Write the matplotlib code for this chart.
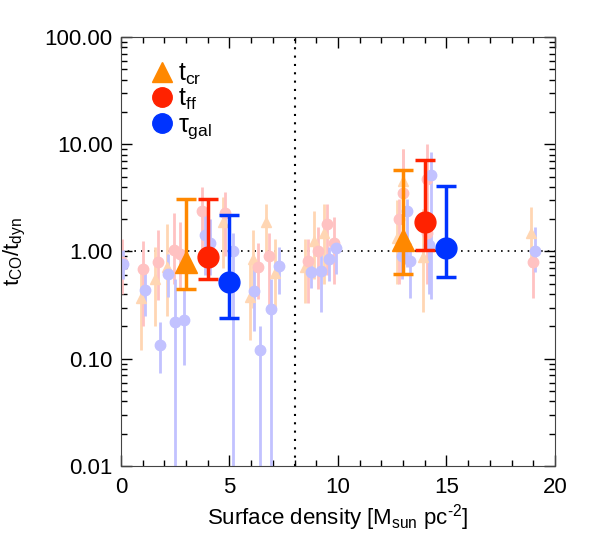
import matplotlib
matplotlib.use('Agg')
import matplotlib.pyplot as plt
from matplotlib.lines import Line2D
import numpy as np

plt.rcParams['font.family'] = ['Liberation Sans', 'DejaVu Sans']
plt.rcParams['mathtext.fontset'] = 'custom'
plt.rcParams['mathtext.rm'] = 'Liberation Sans'
plt.rcParams['mathtext.it'] = 'Liberation Sans'

# faint individual points: t_cr (triangles)
cr_x = [0.9, 1.55, 2.1, 4.7, 5.95, 6.1, 6.7, 7.1, 8.5, 8.9, 9.35, 12.7, 13.0, 13.9, 18.9]
cr_y = [0.37, 0.55, 0.72, 1.9, 0.38, 0.85, 1.9, 0.63, 0.71, 1.24, 1.5, 1.35, 4.5, 0.88, 1.5]
cr_lo = [0.12, 0.2, 0.25, 0.7, 0.15, 0.3, 0.9, 0.3, 0.33, 0.55, 0.5, 0.5, 1.2, 0.27, 0.72]
cr_hi = [0.7, 1.1, 1.8, 3.2, 0.8, 1.6, 2.8, 1.3, 1.3, 2.4, 2.8, 3.0, 9.0, 2.5, 2.6]

# t_ff
ff_x = [0.05, 1.0, 1.7, 2.45, 2.7, 3.75, 4.8, 6.3, 6.8, 8.6, 9.1, 9.5, 9.8, 12.8, 13.0, 14.1, 14.1, 19.0]
ff_y = [0.8, 0.68, 0.79, 1.04, 0.94, 2.4, 2.3, 0.71, 0.9, 0.82, 1.0, 1.8, 1.2, 2.0, 3.5, 1.5, 4.7, 0.79]
ff_lo = [0.4, 0.2, 0.35, 0.5, 0.45, 0.8, 0.9, 0.36, 0.32, 0.33, 0.45, 0.6, 0.5, 0.5, 1.2, 0.5, 1.5, 0.37]
ff_hi = [1.3, 1.25, 1.6, 2.3, 1.9, 4.0, 3.6, 1.2, 1.5, 1.3, 1.7, 2.8, 2.1, 3.1, 9.0, 3.5, 10.0, 1.04]

# tau_gal
gal_x = [0.1, 1.1, 1.8, 2.15, 2.5, 2.9, 3.85, 4.1, 5.15, 6.15, 6.4, 6.9, 7.3,
         8.75, 9.2, 9.6, 9.9, 12.95, 13.2, 13.3, 14.2, 14.3, 19.1]
gal_y = [0.77, 0.44, 0.135, 0.62, 0.22, 0.23, 1.44, 1.2, 1.0, 0.43, 0.12, 0.29, 0.74,
         0.64, 0.66, 0.86, 1.07, 0.9, 2.36, 0.81, 1.16, 5.2, 1.02]
gal_lo = [0.55, 0.25, 0.074, 0.38, 0.005, 0.088, 0.6, 0.6, 0.005, 0.18, 0.005, 0.005, 0.4,
          0.46, 0.27, 0.53, 0.62, 0.55, 0.72, 0.37, 0.4, 0.36, 0.65]
gal_hi = [1.04, 0.68, 0.22, 0.94, 0.55, 0.44, 2.5, 2.0, 1.5, 0.72, 0.2, 0.55, 1.1,
          0.84, 1.03, 1.1, 1.2, 1.5, 3.06, 1.2, 2.0, 8.4, 1.71]

# binned means
bcr_x = [3, 13]
bcr_y = [0.80, 1.29]
bcr_lo = [0.45, 0.62]
bcr_hi = [3.06, 5.7]

bff_x = [4, 14]
bff_y = [0.88, 1.9]
bff_lo = [0.55, 1.04]
bff_hi = [3.1, 7.2]

bgal_x = [5, 15]
bgal_y = [0.52, 1.07]
bgal_lo = [0.24, 0.58]
bgal_hi = [2.2, 4.1]

c_cr, c_ff, c_gal = '#ff8800', '#ff2200', '#0033ff'
l_cr, l_ff, l_gal = '#ffd6b3', '#ffc2c2', '#c2c2ff'


def errs(y, lo, hi):
    y = np.array(y)
    return [y - np.array(lo), np.array(hi) - y]


fig = plt.figure(figsize=(5.98, 5.44), dpi=100)
ax = fig.add_axes([0.2023, 0.1434, 0.7257, 0.7886])

ax.axhline(1.0, color='black', ls=(0, (1, 3)), lw=1.2, zorder=1)
ax.axvline(8.0, color='black', ls=(0, (1, 3)), lw=1.5, zorder=1)

ax.errorbar(cr_x, cr_y, yerr=errs(cr_y, cr_lo, cr_hi), fmt='^', color=l_cr,
            ms=7.5, elinewidth=2, capsize=0, zorder=2)
ax.errorbar(ff_x, ff_y, yerr=errs(ff_y, ff_lo, ff_hi), fmt='o', color=l_ff,
            ms=7.5, elinewidth=2, capsize=0, zorder=2)
ax.errorbar(gal_x, gal_y, yerr=errs(gal_y, gal_lo, gal_hi), fmt='o', color=l_gal,
            ms=7.5, elinewidth=2, capsize=0, zorder=2)

ax.errorbar(bcr_x, bcr_y, yerr=errs(bcr_y, bcr_lo, bcr_hi), fmt='^', color=c_cr,
            ms=16, elinewidth=2.5, capsize=7, capthick=2.5, zorder=3)
ax.errorbar(bff_x, bff_y, yerr=errs(bff_y, bff_lo, bff_hi), fmt='o', color=c_ff,
            ms=15, elinewidth=2.5, capsize=7, capthick=2.5, zorder=3)
ax.errorbar(bgal_x, bgal_y, yerr=errs(bgal_y, bgal_lo, bgal_hi), fmt='o', color=c_gal,
            ms=15, elinewidth=2.5, capsize=7, capthick=2.5, zorder=3)

handles = [Line2D([], [], ls='none', marker='^', color=c_cr, ms=14),
           Line2D([], [], ls='none', marker='o', color=c_ff, ms=14),
           Line2D([], [], ls='none', marker='o', color=c_gal, ms=14)]
labels = [r'$\rm t_{cr}$', r'$\rm t_{ff}$', r'$\tau_{\rm gal}$']
ax.legend(handles, labels, loc='upper left', bbox_to_anchor=(0.049, 0.965),
          frameon=False, fontsize=18, handlelength=0.8, handletextpad=0.25,
          labelspacing=0.0, borderaxespad=0)

ax.set_yscale('log')
ax.set_xlim(0, 20)
ax.set_ylim(0.01, 100)
ax.set_xticks([0, 5, 10, 15, 20])
ax.set_xticks(np.arange(0, 21, 1), minor=True)
ax.set_yticks([0.01, 0.1, 1, 10, 100])
ax.set_yticklabels(['0.01', '0.10', '1.00', '10.00', '100.00'])
ax.tick_params(which='both', direction='in', top=True, right=True, labelsize=16)
ax.tick_params(which='major', length=8, width=1)
ax.tick_params(which='minor', length=4, width=1)
ax.tick_params(axis='x', pad=8)
ax.tick_params(axis='y', pad=6)
for s in ax.spines.values():
    s.set_color('#444444')

ax.set_xlabel(r'Surface density [M$_{\rm sun}$ pc$^{\text{-2}}$]', fontsize=16, labelpad=3)
ax.set_ylabel(r't$_{\rm CO}$/t$_{\rm dyn}$', fontsize=16, labelpad=12)

fig.savefig('out.png', dpi=100)
